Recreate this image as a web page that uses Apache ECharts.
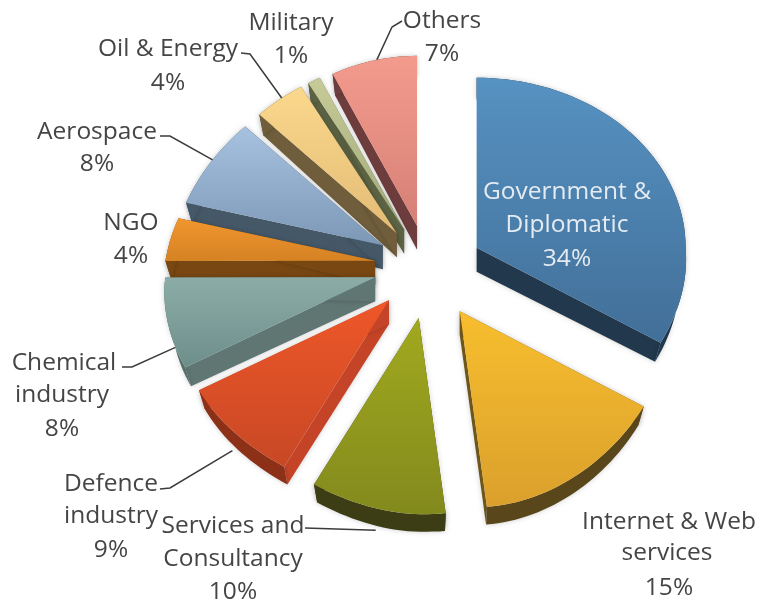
<!DOCTYPE html>
<html>
<head>
<meta charset="utf-8">
<style>html,body{margin:0;padding:0;background:#fff}#chart{width:759px;height:606px}</style>
<script src="https://cdn.jsdelivr.net/npm/echarts@6/dist/echarts.min.js"></script>
</head>
<body>
<div id="chart"></div>
<script>
// Sector shares, clockwise from twelve o'clock
const sectors = ['Government & Diplomatic', 'Internet & Web services', 'Services and Consultancy',
  'Defence industry', 'Chemical industry', 'NGO', 'Aerospace', 'Oil & Energy', 'Military', 'Others'];
const shares = [34, 15, 10, 9, 8, 4, 8, 4, 1, 7];

// Face colours: gradient top, gradient bottom, cut side, rim
const faceTop = ['#5692c2', '#f8be2e', '#a1a91f', '#ee5729', '#8cada7', '#f1962e', '#a6c2e0', '#fad88c', '#c6cb97', '#f39b8d'];
const faceBottom = ['#426f98', '#daa02c', '#838a1d', '#c84825', '#6d8e8a', '#d58224', '#7d98b6', '#e3bb75', '#a1a778', '#d68076'];
const cutSide = ['#21384d', '#6e5519', '#3c3d14', '#c54427', '#5f7672', '#784712', '#455868', '#6f5d3b', '#5c6343', '#6d3c3c'];
const rimSide = ['#21384d', '#5a461b', '#3c3d14', '#8c3118', '#566d69', '#784712', '#455868', '#6f5d3b', '#5c6343', '#6d3c3c'];

// Label lines as [text, centre x, centre y]
const labelLines = [
  [['Government &', 567, 192], ['Diplomatic', 567, 225], ['34%', 567, 259]],
  [['Internet & Web', 669, 522], ['services', 667, 553], ['15%', 669, 588]],
  [['Services and', 233, 526], ['Consultancy', 233, 559], ['10%', 233, 592]],
  [['Defence', 111, 484], ['industry', 111, 516], ['9%', 111, 550]],
  [['Chemical', 64, 363], ['industry', 62, 395], ['8%', 62, 429]],
  [['NGO', 131, 223], ['4%', 131, 256]],
  [['Aerospace', 97, 132], ['8%', 97, 164]],
  [['Oil & Energy', 168, 49], ['4%', 168, 83]],
  [['Military', 291, 23], ['1%', 291, 56]],
  [['Others', 442, 21], ['7%', 442, 54]]
];

// Leader lines: where on the rim they attach, how far down the wall, and their bends
const leaders = {
  2: { along: 0.5, drop: 22, bends: [[305, 528]] },
  3: { along: 0.55, drop: 20, bends: [[170, 488], [160, 489]] },
  4: { along: 0.25, drop: 0, bends: [[132, 367], [122, 367]] },
  6: { along: 0.5, drop: 0, bends: [[170, 136], [160, 136]] },
  7: { along: 0.5, drop: 0, bends: [[250, 54], [241, 53]] },
  9: { along: 0.5, drop: 0, bends: [[392, 27], [402, 21]] }
};

// Tilted-pie projection
const centre = [429, 269];
const radiusRight = 209, radiusLeft = 211, radiusBack = 170, radiusFrontExtra = 26;
const frontShear = 14, backInward = 14, leftDrop = 11, lowerLeftDrop = 20;
const wallInset = 0.97;
const burst = 0.26;
const textColor = '#454545';
const total = shares.reduce((a, b) => a + b, 0);
const starts = shares.map((_, i) => shares.slice(0, i).reduce((a, b) => a + b, 0) / total * Math.PI * 2);

function baseOffset(a) {
  const c = Math.cos(a), s = Math.sin(a);
  const front = Math.max(0, -c);
  const shear = frontShear * (s > 0 ? front : front * front * front);
  return [(s > 0 ? radiusRight : radiusLeft) * s + shear, -c * (radiusBack + radiusFrontExtra * front * front)];
}
function rimOffset(a) {
  const o = baseOffset(a);
  const c = Math.cos(a), s = Math.sin(a);
  const left = Math.max(0, -s), back = Math.max(0, c), front = Math.max(0, -c);
  return [
    o[0] + backInward * back * left,
    o[1] + leftDrop * (back > 0 ? left * left : left) + lowerLeftDrop * front * left * left * left * left
  ];
}
function wallDepth(a) { return 20 - 3.5 * Math.cos(a); }

function sliceGeometry(i) {
  const a0 = starts[i], a1 = a0 + shares[i] / total * Math.PI * 2;
  const mid = baseOffset((a0 + a1) / 2);
  const apex = [centre[0] + burst * mid[0], centre[1] + burst * mid[1]];
  const rim = [], angles = [];
  const steps = Math.max(4, Math.ceil((a1 - a0) / 0.03));
  for (let s = 0; s <= steps; s++) {
    const a = a0 + (a1 - a0) * s / steps;
    const o = rimOffset(a);
    rim.push([apex[0] + o[0], apex[1] + o[1]]);
    angles.push(a);
  }
  return { a0, a1, apex, rim, angles };
}

function renderSlice(params, api) {
  const i = api.value(0);
  const g = sliceGeometry(i);
  const apexDepth = 24;
  const low = g.rim.map((p, k) => [
    g.apex[0] + (p[0] - g.apex[0]) * wallInset,
    g.apex[1] + (p[1] - g.apex[1]) * wallInset + wallDepth(g.angles[k])
  ]);
  const apexLow = [g.apex[0], g.apex[1] + apexDepth];
  const last = g.rim.length - 1;
  const base = 100 + Math.round(100 * -Math.cos((g.a0 + g.a1) / 2)) * 4 + 100;
  const shadow = { shadowBlur: 5, shadowColor: 'rgba(0,0,0,0.2)' };
  const children = [
    { type: 'polygon', z2: base, shape: { points: [g.apex, g.rim[0], low[0], apexLow] }, style: { fill: cutSide[i], ...shadow } },
    { type: 'polygon', z2: base, shape: { points: [g.apex, g.rim[last], low[last], apexLow] }, style: { fill: cutSide[i], ...shadow } },
    { type: 'polygon', z2: base + 1, shape: { points: g.rim.concat(low.slice().reverse()) }, style: { fill: rimSide[i], ...shadow } },
    { type: 'polygon', z2: base + 2, shape: { points: [g.apex].concat(g.rim) },
      style: { fill: { type: 'linear', x: 0, y: 0, x2: 0, y2: 1, colorStops: [{ offset: 0, color: faceTop[i] }, { offset: 1, color: faceBottom[i] }] } } }
  ];
  const lead = leaders[i];
  if (lead) {
    const pos = Math.round(lead.along * last);
    const anchor = [g.rim[pos][0], g.rim[pos][1] + lead.drop];
    children.push({ type: 'polyline', z2: 900, shape: { points: [anchor].concat(lead.bends) },
      style: { stroke: '#3c3c3c', lineWidth: 1.5, fill: null } });
  }
  labelLines[i].forEach(line => {
    children.push({ type: 'text', z2: 1000, style: {
      text: line[0], x: line[1], y: line[2], align: 'center', verticalAlign: 'middle',
      fontFamily: 'Open Sans', fontSize: 24.5, fill: i === 0 ? '#e4ebf2' : textColor } });
  });
  return { type: 'group', children };
}

const chart = echarts.init(document.getElementById('chart'), null, { renderer: 'canvas' });
chart.setOption({
  animation: false,
  backgroundColor: '#ffffff',
  series: [{
    type: 'custom',
    coordinateSystem: 'none',
    renderItem: renderSlice,
    data: shares.map((v, i) => ({ name: sectors[i], value: [i, v] }))
  }]
});
</script>
</body>
</html>
